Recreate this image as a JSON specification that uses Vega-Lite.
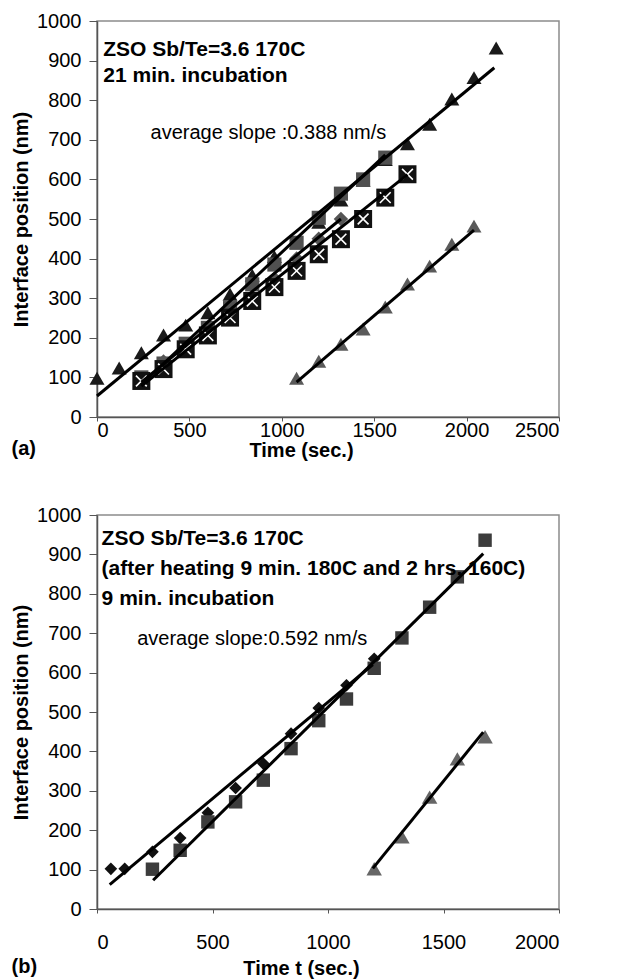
{
  "$schema": "https://vega.github.io/schema/vega-lite/v6.json",
  "padding": {"left": 10, "top": 10, "right": 5, "bottom": 0},
  "spacing": 43,
  "config": {
    "font": "Liberation Sans",
    "view": {"stroke": "#8c8c8c", "strokeWidth": 1.5},
    "axis": {
      "grid": false,
      "labelFontSize": 20,
      "labelFont": "Liberation Sans",
      "labelColor": "#000",
      "titleFontSize": 20,
      "titleFont": "Liberation Sans",
      "titleFontWeight": "bold",
      "titleColor": "#000",
      "domainColor": "#555",
      "tickColor": "#555",
      "tickSize": 5,
      "domainWidth": 1.5,
      "format": "d"
    }
  },
  "datasets": {
    "pts": [
      {"p":"a","s":"A","t":0,"v":98},{"p":"a","s":"A","t":120,"v":124},{"p":"a","s":"A","t":240,"v":162},{"p":"a","s":"A","t":360,"v":207},{"p":"a","s":"A","t":480,"v":232},{"p":"a","s":"A","t":600,"v":263},{"p":"a","s":"A","t":720,"v":310},{"p":"a","s":"A","t":840,"v":358},{"p":"a","s":"A","t":960,"v":405},{"p":"a","s":"A","t":1080,"v":440},{"p":"a","s":"A","t":1200,"v":492},{"p":"a","s":"A","t":1320,"v":548},{"p":"a","s":"A","t":1440,"v":598},{"p":"a","s":"A","t":1560,"v":650},{"p":"a","s":"A","t":1680,"v":690},{"p":"a","s":"A","t":1800,"v":739},{"p":"a","s":"A","t":1920,"v":803},{"p":"a","s":"A","t":2040,"v":857},{"p":"a","s":"A","t":2160,"v":932},
      {"p":"a","s":"B","t":240,"v":100},{"p":"a","s":"B","t":360,"v":135},{"p":"a","s":"B","t":480,"v":185},{"p":"a","s":"B","t":600,"v":225},{"p":"a","s":"B","t":720,"v":275},{"p":"a","s":"B","t":840,"v":335},{"p":"a","s":"B","t":960,"v":385},{"p":"a","s":"B","t":1080,"v":440},{"p":"a","s":"B","t":1200,"v":503},{"p":"a","s":"B","t":1320,"v":564},{"p":"a","s":"B","t":1440,"v":600},{"p":"a","s":"B","t":1560,"v":655},
      {"p":"a","s":"C","t":240,"v":95},{"p":"a","s":"C","t":360,"v":140},{"p":"a","s":"C","t":480,"v":180},{"p":"a","s":"C","t":600,"v":215},{"p":"a","s":"C","t":720,"v":260},{"p":"a","s":"C","t":840,"v":300},{"p":"a","s":"C","t":960,"v":350},{"p":"a","s":"C","t":1080,"v":400},{"p":"a","s":"C","t":1200,"v":450},{"p":"a","s":"C","t":1320,"v":500},
      {"p":"a","s":"D","t":240,"v":91},{"p":"a","s":"D","t":360,"v":121},{"p":"a","s":"D","t":480,"v":171},{"p":"a","s":"D","t":600,"v":206},{"p":"a","s":"D","t":720,"v":251},{"p":"a","s":"D","t":840,"v":293},{"p":"a","s":"D","t":960,"v":328},{"p":"a","s":"D","t":1080,"v":369},{"p":"a","s":"D","t":1200,"v":411},{"p":"a","s":"D","t":1320,"v":449},{"p":"a","s":"D","t":1440,"v":500},{"p":"a","s":"D","t":1560,"v":554},{"p":"a","s":"D","t":1680,"v":613},
      {"p":"a","s":"E","t":1080,"v":98},{"p":"a","s":"E","t":1200,"v":141},{"p":"a","s":"E","t":1320,"v":184},{"p":"a","s":"E","t":1440,"v":222},{"p":"a","s":"E","t":1560,"v":278},{"p":"a","s":"E","t":1680,"v":336},{"p":"a","s":"E","t":1800,"v":381},{"p":"a","s":"E","t":1920,"v":436},{"p":"a","s":"E","t":2040,"v":482},
      {"p":"b","s":"F","t":60,"v":102},{"p":"b","s":"F","t":120,"v":102},{"p":"b","s":"F","t":240,"v":145},{"p":"b","s":"F","t":360,"v":180},{"p":"b","s":"F","t":480,"v":244},{"p":"b","s":"F","t":600,"v":307},{"p":"b","s":"F","t":720,"v":369},{"p":"b","s":"F","t":840,"v":445},{"p":"b","s":"F","t":960,"v":510},{"p":"b","s":"F","t":1080,"v":568},{"p":"b","s":"F","t":1200,"v":635},
      {"p":"b","s":"G","t":240,"v":101},{"p":"b","s":"G","t":360,"v":149},{"p":"b","s":"G","t":480,"v":221},{"p":"b","s":"G","t":600,"v":272},{"p":"b","s":"G","t":720,"v":327},{"p":"b","s":"G","t":840,"v":407},{"p":"b","s":"G","t":960,"v":478},{"p":"b","s":"G","t":1080,"v":533},{"p":"b","s":"G","t":1200,"v":611},{"p":"b","s":"G","t":1320,"v":688},{"p":"b","s":"G","t":1440,"v":766},{"p":"b","s":"G","t":1560,"v":843},{"p":"b","s":"G","t":1680,"v":936},
      {"p":"b","s":"H","t":1200,"v":102},{"p":"b","s":"H","t":1320,"v":183},{"p":"b","s":"H","t":1440,"v":284},{"p":"b","s":"H","t":1560,"v":381},{"p":"b","s":"H","t":1680,"v":437}
    ],
    "fits": [
      {"p":"a","s":"A","t":0,"v":53},{"p":"a","s":"A","t":2150,"v":882},
      {"p":"a","s":"B","t":240,"v":82},{"p":"a","s":"B","t":1560,"v":662},
      {"p":"a","s":"C","t":240,"v":88},{"p":"a","s":"C","t":1320,"v":500},
      {"p":"a","s":"D","t":240,"v":78},{"p":"a","s":"D","t":1680,"v":612},
      {"p":"a","s":"E","t":1080,"v":88},{"p":"a","s":"E","t":2040,"v":472},
      {"p":"b","s":"F","t":55,"v":62},{"p":"b","s":"F","t":1194,"v":620},
      {"p":"b","s":"G","t":243,"v":73},{"p":"b","s":"G","t":1672,"v":902},
      {"p":"b","s":"H","t":1194,"v":103},{"p":"b","s":"H","t":1672,"v":449}
    ],
    "notes": [
      {"p":"a","k":"head","t":34,"v":912,"label":"ZSO Sb/Te=3.6 170C"},
      {"p":"a","k":"head","t":34,"v":846,"label":"21 min. incubation"},
      {"p":"a","k":"slope","t":290,"v":702,"label":"average slope :0.388 nm/s"},
      {"p":"b","k":"head","t":20,"v":924,"label":"ZSO Sb/Te=3.6 170C"},
      {"p":"b","k":"head","t":20,"v":848,"label":"(after heating 9 min. 180C and 2 hrs. 160C)"},
      {"p":"b","k":"head","t":20,"v":772,"label":"9 min. incubation"},
      {"p":"b","k":"slope","t":174,"v":670,"label":"average slope:0.592 nm/s"}
    ]
  },
  "vconcat": [
    {
      "width": 462,
      "height": 396,
      "title": {"text": "(a)", "orient": "bottom", "anchor": "start", "frame": "bounds", "fontSize": 20, "fontWeight": "bold", "font": "Liberation Sans", "color": "#000", "offset": -21},
      "encoding": {
        "x": {"field": "t", "type": "quantitative", "scale": {"domain": [0, 2500], "nice": false},
              "axis": {"values": [0, 500, 1000, 1500, 2000, 2500], "title": "Time (sec.)", "titleX": 204, "tickSize": 4, "labelPadding": -1, "titlePadding": 0}},
        "y": {"field": "v", "type": "quantitative", "scale": {"domain": [0, 1000], "nice": false},
              "axis": {"values": [0, 100, 200, 300, 400, 500, 600, 700, 800, 900, 1000], "title": "Interface position (nm)", "tickSize": 8, "labelPadding": 8, "titlePadding": 5}}
      },
      "layer": [
        {"data": {"name": "pts"}, "transform": [{"filter": "datum.p === 'a' && datum.s === 'A'"}],
         "mark": {"type": "point", "shape": "triangle-up", "filled": true, "color": "#1a1a1a", "opacity": 1, "size": 225}},
        {"data": {"name": "pts"}, "transform": [{"filter": "datum.p === 'a' && datum.s === 'B'"}],
         "mark": {"type": "point", "shape": "square", "filled": true, "color": "#505050", "opacity": 1, "size": 200}},
        {"data": {"name": "pts"}, "transform": [{"filter": "datum.p === 'a' && datum.s === 'C'"}],
         "mark": {"type": "point", "shape": "diamond", "filled": true, "color": "#555555", "opacity": 1, "size": 210}},
        {"data": {"name": "pts"}, "transform": [{"filter": "datum.p === 'a' && datum.s === 'D'"}],
         "mark": {"type": "point", "shape": "square", "filled": true, "color": "#111111", "opacity": 1, "size": 324}},
        {"data": {"name": "pts"}, "transform": [{"filter": "datum.p === 'a' && datum.s === 'D'"}],
         "mark": {"type": "point", "shape": "M-0.6,-0.6L0.6,0.6M-0.6,0.6L0.6,-0.6", "filled": false, "color": "#ffffff", "opacity": 1, "strokeWidth": 1.6, "size": 324}},
        {"data": {"name": "pts"}, "transform": [{"filter": "datum.p === 'a' && datum.s === 'E'"}],
         "mark": {"type": "point", "shape": "triangle-up", "filled": true, "color": "#5a5a5a", "opacity": 1, "size": 225}},
        {"data": {"name": "fits"}, "transform": [{"filter": "datum.p === 'a'"}],
         "mark": {"type": "line", "color": "#000000", "strokeWidth": 3},
         "encoding": {"detail": {"field": "s"}}},
        {"data": {"name": "notes"}, "transform": [{"filter": "datum.p === 'a' && datum.k === 'head'"}],
         "mark": {"type": "text", "align": "left", "baseline": "alphabetic", "fontSize": 21, "fontWeight": "bold", "font": "Liberation Sans", "color": "#000"},
         "encoding": {"text": {"field": "label"}}},
        {"data": {"name": "notes"}, "transform": [{"filter": "datum.p === 'a' && datum.k === 'slope'"}],
         "mark": {"type": "text", "align": "left", "baseline": "alphabetic", "fontSize": 20, "font": "Liberation Sans", "color": "#000"},
         "encoding": {"text": {"field": "label"}}}
      ]
    },
    {
      "width": 462,
      "height": 394,
      "title": {"text": "(b)", "orient": "bottom", "anchor": "start", "frame": "bounds", "fontSize": 20, "fontWeight": "bold", "font": "Liberation Sans", "color": "#000", "offset": -21},
      "encoding": {
        "x": {"field": "t", "type": "quantitative", "scale": {"domain": [0, 2000], "nice": false},
              "axis": {"values": [0, 500, 1000, 1500, 2000], "title": "Time t (sec.)", "titleX": 204, "tickSize": 4, "labelPadding": 19, "titlePadding": 6}},
        "y": {"field": "v", "type": "quantitative", "scale": {"domain": [0, 1000], "nice": false},
              "axis": {"values": [0, 100, 200, 300, 400, 500, 600, 700, 800, 900, 1000], "title": "Interface position (nm)", "tickSize": 8, "labelPadding": 8, "titlePadding": 5}}
      },
      "layer": [
        {"data": {"name": "pts"}, "transform": [{"filter": "datum.p === 'b' && datum.s === 'F'"}],
         "mark": {"type": "point", "shape": "diamond", "filled": true, "color": "#111111", "opacity": 1, "size": 160}},
        {"data": {"name": "pts"}, "transform": [{"filter": "datum.p === 'b' && datum.s === 'G'"}],
         "mark": {"type": "point", "shape": "square", "filled": true, "color": "#3c3c3c", "opacity": 1, "size": 180}},
        {"data": {"name": "pts"}, "transform": [{"filter": "datum.p === 'b' && datum.s === 'H'"}],
         "mark": {"type": "point", "shape": "triangle-up", "filled": true, "color": "#666666", "opacity": 1, "size": 240}},
        {"data": {"name": "fits"}, "transform": [{"filter": "datum.p === 'b'"}],
         "mark": {"type": "line", "color": "#000000", "strokeWidth": 3},
         "encoding": {"detail": {"field": "s"}}},
        {"data": {"name": "notes"}, "transform": [{"filter": "datum.p === 'b' && datum.k === 'head'"}],
         "mark": {"type": "text", "align": "left", "baseline": "alphabetic", "fontSize": 21, "fontWeight": "bold", "font": "Liberation Sans", "color": "#000"},
         "encoding": {"text": {"field": "label"}}},
        {"data": {"name": "notes"}, "transform": [{"filter": "datum.p === 'b' && datum.k === 'slope'"}],
         "mark": {"type": "text", "align": "left", "baseline": "alphabetic", "fontSize": 20, "font": "Liberation Sans", "color": "#000"},
         "encoding": {"text": {"field": "label"}}}
      ]
    }
  ]
}
